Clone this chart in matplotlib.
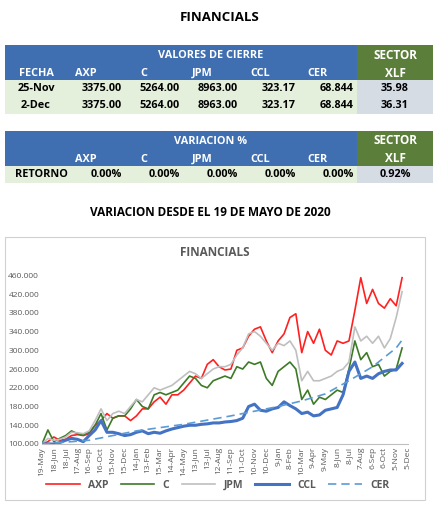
import numpy as np
import matplotlib.pyplot as plt
from matplotlib.patches import Rectangle

plt.rcParams['font.family'] = ['Open Sans', 'DejaVu Sans']

# table data
cols = ["AXP", "C", "JPM", "CCL", "CER"]
fechas = ["25-Nov", "2-Dec"]
cierre = [["3375.00", "5264.00", "8963.00", "323.17", "68.844"],
          ["3375.00", "5264.00", "8963.00", "323.17", "68.844"]]
xlf = ["35.98", "36.31"]
retorno = ["0.00%", "0.00%", "0.00%", "0.00%", "0.00%"]
xlf_ret = "0.92%"

# chart data, one value every 15 days from 19-May-2020
tick_labels = ["19-May", "18-Jun", "18-Jul", "17-Aug", "16-Sep", "16-Oct", "15-Nov", "15-Dec",
               "14-Jan", "13-Feb", "15-Mar", "14-Apr", "14-May", "13-Jun", "13-Jul", "12-Aug",
               "11-Sep", "11-Oct", "10-Nov", "10-Dec", "9-Jan", "8-Feb", "10-Mar", "9-Apr",
               "9-May", "8-Jun", "8-Jul", "7-Aug", "6-Sep", "6-Oct", "5-Nov", "5-Dec"]
axp = [100, 105, 115, 108, 110, 118, 120, 118, 122, 140, 150, 165, 155, 160, 160, 150,
       160, 175, 175, 190, 200, 185, 205, 205, 215, 230, 245, 240, 270, 280, 265, 258,
       260, 300, 305, 330, 345, 350, 320, 295, 320, 335, 370, 378, 295, 340, 315, 345,
       300, 290, 320, 315, 320, 385, 455, 400, 430, 400, 390, 410, 395, 455]
c = [100, 130, 105, 112, 118, 128, 122, 120, 125, 140, 165, 130, 155, 160, 160, 175,
     195, 180, 175, 205, 210, 205, 210, 215, 230, 245, 240, 225, 220, 235, 240, 245,
     240, 265, 260, 275, 270, 275, 240, 225, 255, 265, 275, 260, 195, 215, 185, 200,
     195, 205, 215, 210, 260, 320, 280, 295, 265, 270, 245, 255, 260, 305]
jpm = [100, 112, 108, 110, 115, 125, 124, 122, 128, 150, 175, 150, 165, 170, 165, 180,
       195, 190, 205, 220, 215, 220, 225, 235, 245, 255, 250, 240, 250, 260, 265, 265,
       270, 290, 305, 335, 340, 330, 315, 300, 315, 310, 320, 300, 235, 255, 235, 235,
       240, 245, 255, 260, 275, 350, 320, 330, 315, 330, 305, 325, 370, 425]
ccl = [100, 100, 100, 103, 108, 112, 110, 105, 118, 130, 150, 125, 125, 122, 118, 120,
       125, 128, 122, 125, 123, 128, 132, 135, 138, 140, 140, 142, 143, 145, 145, 147,
       148, 150, 155, 180, 185, 172, 170, 175, 178, 190, 182, 175, 165, 168, 160, 162,
       172, 175, 178, 205, 255, 275, 240, 245, 240, 250, 255, 258, 258, 272]
cer_idx = [0, 8, 16, 24, 32, 40, 44, 48, 52, 56, 60, 61]
cer = [100, 108, 128, 142, 160, 180, 192, 207, 235, 265, 305, 322]

W, H = 440, 509
fig = plt.figure(figsize=(W / 100, H / 100), dpi=100)
bg = fig.add_axes([0, 0, 1, 1])
bg.set_xlim(0, W)
bg.set_ylim(H, 0)
bg.axis("off")

BLUE = "#3f6fb0"
GREEN = "#5b7e3a"
LGREEN = "#e4efdc"
GREY = "#d6dce4"
edges = [5, 67, 125, 183, 241, 299, 357, 433]


def cell(x0, x1, y0, y1, color):
    bg.add_patch(Rectangle((x0, y0), x1 - x0, y1 - y0, color=color, lw=0))


def txt(x, y, s, color="white", ha="center", size=7.8):
    bg.text(x, y, s, color=color, ha=ha, va="center", fontsize=size, fontweight="bold")


bg.text(220, 17, "FINANCIALS", ha="center", va="center", fontsize=9.5, fontweight="bold")

# table 1
cell(5, 357, 45, 80, BLUE)
cell(357, 433, 45, 80, GREEN)
txt(211, 55, "VALORES DE CIERRE")
txt(395, 55, "SECTOR", size=8.5)
txt(395, 73, "XLF", size=8.5)
txt(36, 73, "FECHA")
for i, name in enumerate(cols):
    txt((edges[i + 1] + edges[i + 2]) / 2 - 10, 73, name)
for r in range(2):
    y0 = 80 + r * 17
    cell(5, 357, y0, y0 + 17, LGREEN)
    cell(357, 433, y0, y0 + 17, GREY)
    txt(36, y0 + 8.5, fechas[r], color="black")
    for i, v in enumerate(cierre[r]):
        txt(edges[i + 2] - 3, y0 + 8.5, v, color="black", ha="right")
    txt(395, y0 + 8.5, xlf[r], color="black")

# table 2
cell(5, 357, 131, 166, BLUE)
cell(357, 433, 131, 166, GREEN)
txt(211, 141, "VARIACION %")
txt(395, 141, "SECTOR", size=8.5)
txt(395, 159, "XLF", size=8.5)
for i, name in enumerate(cols):
    txt((edges[i + 1] + edges[i + 2]) / 2 - 10, 159, name)
cell(5, 357, 166, 183, LGREEN)
cell(357, 433, 166, 183, GREY)
txt(15, 174.5, "RETORNO", color="black", ha="left")
for i, v in enumerate(retorno):
    txt(edges[i + 2] - 3, 174.5, v, color="black", ha="right")
txt(395, 174.5, xlf_ret, color="black")

bg.text(210, 213, "VARIACION DESDE EL 19 DE MAYO DE 2020", ha="center", va="center",
        fontsize=8.5, fontweight="bold")

# chart frame
bg.add_patch(Rectangle((5, 237), 420, 263, fill=False, ec="#d0d0d0", lw=0.8))
bg.text(215, 253, "FINANCIALS", ha="center", va="center", fontsize=8.5,
        fontweight="bold", color="#595959")

ax = fig.add_axes([42 / W, 1 - 444 / H, 366 / W, 171 / H])
days = np.arange(len(axp)) * 15
ax.plot(days, axp, color="#ff2020", lw=1.2, label="AXP")
ax.plot(days, c, color="#3d7a27", lw=1.2, label="C")
ax.plot(days, jpm, color="#bfbfbf", lw=1.2, label="JPM")
ax.plot(days, ccl, color="#4472c4", lw=2.2, label="CCL")
ax.plot(np.array(cer_idx) * 15, cer, color="#5b9bd5", lw=1.2, ls=(0, (5, 3)), label="CER")
ax.set_ylim(100, 465)
ax.set_xlim(0, 930)
ax.set_yticks(np.arange(100, 461, 40))
ax.set_yticklabels([f"{v}.000" for v in range(100, 461, 40)], fontsize=6, color="#595959")
ax.set_xticks(np.arange(len(tick_labels)) * 30)
ax.set_xticklabels(tick_labels, rotation=90, fontsize=6, color="#595959")
for s in ["top", "right", "left"]:
    ax.spines[s].set_visible(False)
ax.spines["bottom"].set_color("#bfbfbf")
ax.tick_params(length=0, pad=2)
ax.legend(loc="center", bbox_to_anchor=(0.48, -0.24), ncol=5, frameon=False,
          prop={"size": 7.5, "weight": "bold"}, handlelength=3.2, columnspacing=1.2,
          labelcolor="#595959")

fig.savefig("out.png", dpi=100)
